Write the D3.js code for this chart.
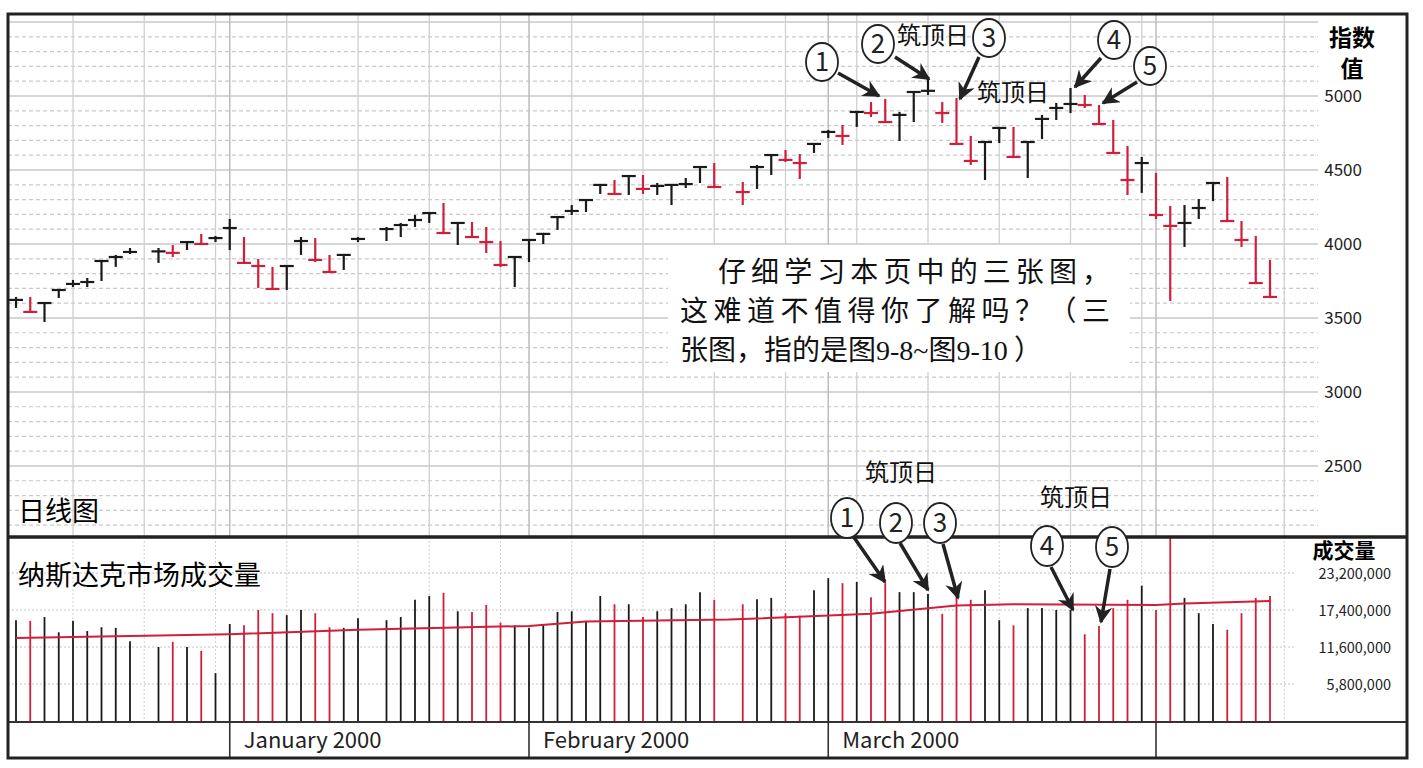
<!DOCTYPE html>
<html>
<head>
<meta charset="utf-8">
<script src="https://cdn.jsdelivr.net/npm/d3@7"></script>
<style>
	body { margin: 0; background: #fff; }
	svg { display: block; }
	text { font-family: "Noto Sans CJK SC", "Open Sans", sans-serif; }
</style>
</head>
<body>
<div id="svg-container"></div>
<script>

// DATA (one slot per weekday, Dec 13 1999 .. Apr 13 2000; null = market holiday)
const highs = [3642,3642,3601,3689,3757,3770,3885,3926,3973,null,
	3973,3993,4013,4068,4054,4169,4047,3899,3845,3851,
	4047,4040,3926,3926,4047,null,4115,4142,4196,4209,
	4277,4142,4149,4115,4020,3912,4027,4075,4182,4263,
	4297,4399,4432,4459,4466,4412,4399,4446,4520,4547,
	null,4419,4534,4601,4635,4608,4676,4770,4804,4892,
	4959,4980,4892,5027,5115,4959,4986,4730,4689,4784,
	4791,4689,4872,4953,5054,5007,4939,4838,4662,4588,
	4480,4257,4263,4304,4412,4453,4155,4054,3892];
const lows = [3568,3541,3473,3635,3709,3709,3750,3845,3932,null,
	3872,3912,3959,4000,4013,3959,3872,3703,3696,3689,
	3926,3878,3811,3824,4013,null,4020,4047,4115,4142,
	4074,3993,4047,3939,3845,3709,3878,4000,4095,4196,
	4216,4338,4338,4331,4338,4331,4263,4378,4412,4378,
	null,4263,4372,4466,4554,4439,4615,4716,4669,4791,
	4858,4818,4696,4824,5007,4818,4676,4534,4432,4682,
	4588,4446,4709,4838,4885,4919,4811,4615,4331,4345,
	4169,3615,3980,4169,4290,4155,3980,3736,3642];
const closes = [3622,3541,3601,3689,3730,3743,3885,3912,3946,null,
	3950,3940,4013,4000,4040,4108,3872,3851,3696,3851,
	4020,3892,3811,3926,4034,null,4101,4128,4162,4209,
	4074,4142,4047,4013,3858,3912,4027,4068,4182,4223,
	4297,4399,4338,4459,4372,4392,4399,4405,4520,4385,
	null,4351,4520,4601,4568,4547,4676,4757,4730,4892,
	4885,4824,4872,5027,5035,4885,4676,4561,4689,4784,
	4588,4689,4845,4919,4946,4939,4811,4615,4432,4547,
	4196,4122,4142,4243,4412,4155,4027,3736,3642];
// volume, millions of shares
const volumes = [15.8,15.7,16.3,13.9,15.7,14.1,14.7,14.6,12.5,null,
	11.6,12.4,11.6,11.0,7.5,15.2,15.0,17.4,16.9,16.6,
	17.4,16.9,14.7,14.6,16.1,null,15.8,16.3,19.0,19.6,
	20.1,17.2,17.1,18.2,15.4,15.0,14.6,15.2,17.1,17.2,
	15.5,19.6,18.3,18.3,16.3,17.2,17.7,18.3,20.2,19.0,
	null,18.3,19.1,19.3,16.9,16.5,20.5,22.4,21.6,21.8,
	19.4,21.6,20.2,20.2,19.9,16.8,19.6,19.0,20.5,15.8,
	15.0,17.7,17.7,17.4,17.4,13.6,14.9,17.7,19.0,21.2,
	17.4,29.5,19.3,16.9,15.2,14.3,16.9,19.3,19.6];
// moving average of volume, read at a few slots
const maSlots = [0,10,15,24,36,40,50,60,66,70,80,82,88];
const maValues = [13.0,13.4,13.6,14.3,14.9,15.6,15.9,16.8,18.1,18.3,18.2,18.4,18.8];

const priceTicks = [2500,3000,3500,4000,4500,5000];
const volumeTicks = [5.8,11.6,17.4,23.2];
const volumeTickLabels = ["5,800,000","11,600,000","17,400,000","23,200,000"];
const monthNames = ["January 2000","February 2000","March 2000",""];
const monthStarts = [15,36,57,80];

const RED = "#cf1f3a";
const BLACK = "#1a1a1a";

function graphData() {
	const w = 1423, h = 768;
	const left = 8, right = 1407, top = 14, mid = 537, volBottom = 722, bottom = 758;

	const svg = d3.select("#svg-container").append("svg")
		.attr("width", w).attr("height", h);

	const n = closes.length;
	const x = d3.scaleLinear().domain([0, n - 1]).range([16, 1270]);
	const y = d3.scaleLinear().domain([2020, 5554]).range([mid, top]);
	const yv = d3.scaleLinear().domain([0, 23.2]).range([721, 573]);

	// is day down?
	const down = d3.range(n).map(i => {
		if (closes[i] == null) return false;
		let j = i - 1;
		while (j >= 0 && closes[j] == null) j--;
		return j >= 0 && closes[i] < closes[j];
	});

	// ---- price grid
	const pg = svg.append("g");
	d3.range(2100, 5600, 100).forEach(v => {
		const solid = v % 500 === 0;
		pg.append("line").attr("x1", left).attr("x2", 1318)
			.attr("y1", y(v)).attr("y2", y(v))
			.attr("stroke", solid ? "#c8c8c8" : "#c9c9c9")
			.attr("stroke-width", solid ? 1.6 : 1.2)
			.attr("stroke-dasharray", solid ? null : "4,3");
	});
	const fridays = d3.range(4, n + 3, 5);
	fridays.forEach(i => {
		pg.append("line").attr("x1", x(i)).attr("x2", x(i))
			.attr("y1", top).attr("y2", mid).attr("stroke", "#d0d0d0").attr("stroke-width", 1.3);
	});
	monthStarts.forEach(i => {
		pg.append("line").attr("x1", x(i)).attr("x2", x(i))
			.attr("y1", top).attr("y2", mid).attr("stroke", "#bdbdbd").attr("stroke-width", 1.5);
	});

	// ---- volume grid
	const vg = svg.append("g");
	volumeTicks.forEach(v => {
		vg.append("line").attr("x1", left).attr("x2", 1295)
			.attr("y1", yv(v)).attr("y2", yv(v))
			.attr("stroke", "#c4c4c4").attr("stroke-dasharray", "2,2");
	});
	fridays.forEach(i => {
		vg.append("line").attr("x1", x(i)).attr("x2", x(i))
			.attr("y1", mid).attr("y2", volBottom)
			.attr("stroke", "#cfcfcf").attr("stroke-dasharray", "2,2");
	});

	// note box (white behind the text)
	svg.append("rect").attr("x", 668).attr("y", 245).attr("width", 462).attr("height", 127)
		.attr("fill", "#fff");

	// ---- price bars
	const bars = svg.append("g");
	d3.range(n).forEach(i => {
		if (closes[i] == null) return;
		const c = down[i] ? RED : BLACK;
		bars.append("line").attr("x1", x(i)).attr("x2", x(i))
			.attr("y1", y(highs[i])).attr("y2", y(lows[i]))
			.attr("stroke", c).attr("stroke-width", 2.2);
		bars.append("line").attr("x1", x(i) - 7).attr("x2", x(i) + 7)
			.attr("y1", y(closes[i])).attr("y2", y(closes[i]))
			.attr("stroke", c).attr("stroke-width", 2.2);
	});

	// ---- volume bars
	const vb = svg.append("g");
	d3.range(n).forEach(i => {
		if (volumes[i] == null) return;
		vb.append("line").attr("x1", x(i)).attr("x2", x(i))
			.attr("y1", 721).attr("y2", Math.max(mid, yv(volumes[i])))
			.attr("stroke", down[i] ? RED : BLACK).attr("stroke-width", 1.8);
	});
	svg.append("path")
		.datum(maSlots.map((s, k) => [s, maValues[k]]))
		.attr("d", d3.line().x(d => x(d[0])).y(d => yv(d[1])))
		.attr("fill", "none").attr("stroke", RED).attr("stroke-width", 2);

	// ---- right axes
	svg.append("rect").attr("x", 1319).attr("y", 16).attr("width", 80).attr("height", 80).attr("fill", "#fff");
	const pa = svg.append("g").attr("transform", "translate(1362,0)")
		.call(d3.axisLeft(y).tickValues(priceTicks).tickSize(0).tickPadding(0).tickFormat(d3.format("d")));
	pa.select(".domain").remove();
	pa.selectAll("text").attr("font-family", "'Open Sans', sans-serif").attr("font-size", 17)
		.attr("fill", "#222").attr("dy", "0.35em");

	const va = svg.append("g").attr("transform", "translate(1391,0)")
		.call(d3.axisLeft(yv).tickValues(volumeTicks).tickSize(0).tickPadding(0)
			.tickFormat((d, k) => volumeTickLabels[k]));
	va.select(".domain").remove();
	va.selectAll("text").attr("font-family", "'Open Sans', sans-serif").attr("font-size", 14.5)
		.attr("fill", "#222").attr("dy", "0.35em");

	svg.append("text").attr("x", 1352).attr("y", 46).attr("text-anchor", "middle")
		.attr("font-size", 23).attr("font-weight", "bold").text("指数");
	svg.append("text").attr("x", 1352).attr("y", 77).attr("text-anchor", "middle")
		.attr("font-size", 23).attr("font-weight", "bold").text("值");
	svg.append("text").attr("x", 1344).attr("y", 558).attr("text-anchor", "middle")
		.attr("font-size", 21).attr("font-weight", "bold").text("成交量");

	// ---- month axis
	svg.append("line").attr("x1", left).attr("x2", right).attr("y1", volBottom).attr("y2", volBottom)
		.attr("stroke", "#333").attr("stroke-width", 2);
	monthStarts.forEach((s, k) => {
		svg.append("line").attr("x1", x(s)).attr("x2", x(s)).attr("y1", volBottom).attr("y2", bottom)
			.attr("stroke", "#333").attr("stroke-width", 1.6);
		svg.append("text").attr("x", x(s) + 14).attr("y", 748)
			.attr("font-family", "'Open Sans', sans-serif").attr("font-size", 22).attr("fill", "#222")
			.text(monthNames[k]);
	});

	// ---- frame
	svg.append("rect").attr("x", left).attr("y", top).attr("width", right - left).attr("height", bottom - top)
		.attr("fill", "none").attr("stroke", "#222").attr("stroke-width", 3);
	svg.append("line").attr("x1", left).attr("x2", right).attr("y1", mid).attr("y2", mid)
		.attr("stroke", "#222").attr("stroke-width", 3.5);

	// ---- panel titles
	svg.append("text").attr("x", 18).attr("y", 521).attr("font-size", 27).text("日线图");
	svg.append("text").attr("x", 18).attr("y", 585).attr("font-size", 27).text("纳斯达克市场成交量");

	// ---- note
	const note = svg.append("g").attr("font-size", 28).attr("fill", "#111");
	note.append("text").attr("x", 718).attr("y", 282).attr("textLength", 392)
		.attr("lengthAdjust", "spacing").text("仔细学习本页中的三张图，");
	note.append("text").attr("x", 680).attr("y", 321).attr("textLength", 430)
		.attr("lengthAdjust", "spacing").text("这难道不值得你了解吗？（三");
	const l3 = note.append("text").attr("x", 680).attr("y", 360);
	l3.append("tspan").text("张图，指的是图");
	l3.append("tspan").attr("font-family", "'Liberation Serif', serif").text("9-8~");
	l3.append("tspan").text("图");
	l3.append("tspan").attr("font-family", "'Liberation Serif', serif").text("9-10");
	l3.append("tspan").text(" ）");

	// ---- annotations
	const defs = svg.append("defs");
	defs.append("marker").attr("id", "ah").attr("viewBox", "0 0 10 10")
		.attr("refX", 9).attr("refY", 5).attr("markerWidth", 5).attr("markerHeight", 5)
		.attr("markerUnits", "strokeWidth").attr("orient", "auto")
		.append("path").attr("d", "M0,0 L10,5 L0,10 L3,5 Z").attr("fill", "#222");

	const ann = svg.append("g");
	function circ(cx, cy, label, rx, ry) {
		ann.append("ellipse").attr("cx", cx).attr("cy", cy).attr("rx", rx).attr("ry", ry)
			.attr("fill", "#fff").attr("stroke", "#222").attr("stroke-width", 1.8);
		ann.append("text").attr("x", cx).attr("y", cy + 9).attr("text-anchor", "middle")
			.attr("font-family", "'Open Sans', sans-serif").attr("font-size", 26).attr("fill", "#222").text(label);
	}
	function arrow(x1, y1, x2, y2) {
		ann.append("line").attr("x1", x1).attr("y1", y1).attr("x2", x2).attr("y2", y2)
			.attr("stroke", "#222").attr("stroke-width", 3.5).attr("marker-end", "url(#ah)");
	}
	function label(tx, ty) {
		ann.append("text").attr("x", tx).attr("y", ty).attr("font-size", 24).attr("fill", "#111").text("筑顶日");
	}
	// price panel
	arrow(838, 73, 879, 96); circ(822, 62, "1", 16, 19);
	arrow(895, 57, 929, 79); circ(878, 44, "2", 16, 19);
	label(897, 44);
	arrow(979, 57, 960, 99); circ(989, 38, "3", 16, 19);
	label(977, 101);
	arrow(1101, 58, 1075, 87); circ(1114, 40, "4", 16, 19);
	arrow(1137, 82, 1103, 103); circ(1150, 66, "5", 16, 19);
	// volume panel
	label(865, 481);
	label(1040, 506);
	arrow(853, 536, 885, 582); circ(847, 518, "1", 16, 20);
	arrow(900, 543, 928, 590); circ(896, 523, "2", 16, 20);
	arrow(943, 544, 958, 598); circ(940, 523, "3", 16, 20);
	arrow(1051, 567, 1073, 610); circ(1047, 546, "4", 16, 20);
	arrow(1110, 569, 1101, 622); circ(1112, 547, "5", 16, 20);
}

document.addEventListener('DOMContentLoaded', graphData);
</script>
</body>
</html>
